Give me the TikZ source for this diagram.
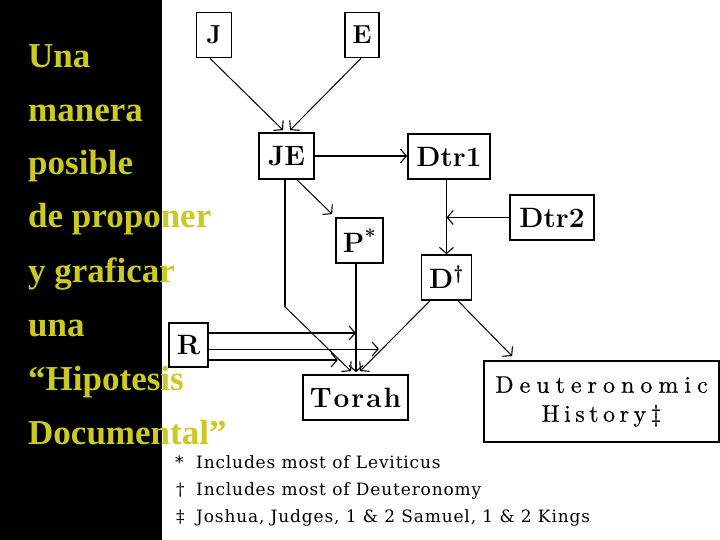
\documentclass[tikz,border=0pt]{standalone}
\usepackage{fontspec}
\usetikzlibrary{arrows.meta,calc}
\newfontfamily\titlefont{Liberation Serif}
\newfontfamily\notefont[LetterSpace=5]{DejaVu Serif}
\newfontfamily\dhfont[FakeBold=0.6]{lmroman10-regular.otf}
\definecolor{titleyellow}{RGB}{202,202,32}
\newcommand\spacedtext[2]{\def\spacedamt{#1}\spacedloop#2\relax}
\def\spacedloop#1{\ifx#1\relax\unskip\else#1\hskip\spacedamt\relax\expandafter\spacedloop\fi}
\tikzset{
  box/.style={draw=black, line width=1.7pt, fill=white, inner sep=0pt, text=black,
    font=\bfseries\fontsize{28}{30}\selectfont},
  smallbox/.style={box, font=\bfseries\fontsize{26}{28}\selectfont},
  dhbox/.style={draw=black, line width=1.7pt, fill=white, inner sep=0pt, align=center,
    font=\dhfont\fontsize{24}{29}\selectfont},
  tip/.style={-{Straight Barb[length=6pt,width=14pt,line width=1.1pt]}},
  heavy/.style={line width=1.7pt},
  slim/.style={line width=1pt},
  title/.style={anchor=base west, inner sep=0pt, text=titleyellow,
    font=\titlefont\bfseries\fontsize{35}{40}\selectfont},
  note/.style={anchor=base west, inner sep=0pt, font=\notefont\fontsize{17}{18}\selectfont}
}
\begin{document}
\begin{tikzpicture}[x=1pt,y=-1pt]
\useasboundingbox (0,0) rectangle (720,540);
\fill[white] (0,0) rectangle (720,540);
\fill[black] (0,0) rectangle (162,540);

% boxes
\node[smallbox, minimum width=35pt, minimum height=45pt] (J) at (214,35) {J};
\node[smallbox, minimum width=34pt, minimum height=45pt] (E) at (362,35) {E};
\node[box, minimum width=55pt, minimum height=46pt] (JE) at (286.5,156) {JE};
\node[box, minimum width=82pt, minimum height=45pt] (Dtr1) at (449,156.5) {Dtr1};
\node[box, minimum width=84pt, minimum height=45pt] (Dtr2) at (552,217.5) {Dtr2};
\node[box, minimum width=47pt, minimum height=45pt] (P) at (359.5,240.5) {P\textsuperscript{*}};
\node[box, minimum width=50pt, minimum height=45pt] (D) at (446.5,277.5) {D\textsuperscript{†}};
\node[box, minimum width=39pt, minimum height=44pt] (R) at (188.5,345) {R};
\node[box, minimum width=105pt, minimum height=45pt] (T) at (355.5,397.5) {\spacedtext{2pt}{Torah}};
\node[dhbox, minimum width=235pt, minimum height=81pt] (DH) at (601.5,401.5)
  {\spacedtext{6pt}{Deuteronomic}\\\spacedtext{4.5pt}{History‡}};

% connectors
\draw[slim, tip] ($(J.south)+(-4,0)$) -- ($(JE.north)+(-3.5,-2)$);
\draw[slim, tip] ($(E.south)+(-1,0)$) -- ($(JE.north)+(3.5,-2)$);
\draw[heavy, tip] (JE.east) -- (JE.east -| Dtr1.west);
\draw[slim, tip] ($(JE.south)+(10.5,0)$) -- ($(P.north west)+(-3,-3)$);
\coordinate (jeb) at ($(JE.south)+(-1.5,127)$);
\draw[heavy] ($(JE.south)+(-1.5,0)$) -- (jeb);
\draw[slim, tip] (jeb) -- ($(T.north)+(-4.5,-3)$);
\draw[heavy, tip] (Dtr1.south -| D.north) -- (D.north);
\draw[heavy, tip] (Dtr2.west) -- (Dtr2.west -| D.north);
\coordinate (pb) at ($(P.south)+(-3.5,0)$);
\draw[heavy, tip] (pb) -- ($(pb |- T.north)+(0,-2)$);
\draw[slim, tip] ($(D.south)+(-16.5,0)$) -- ($(T.north)+(4.5,-3)$);
\draw[slim, tip] ($(D.south)+(11.5,0)$) -- ($(DH.north west)+(29,-4)$);
\draw[heavy, tip] ($(R.east)+(0,-12)$) -- ++(147,0);
\draw[slim, tip] ($(R.east)+(0,4)$) -- ++(170,0);
\draw[heavy, tip] ($(R.east)+(0,15)$) -- ++(129,0);

% title text
\node[title] (t1) at (28,68) {Una};
\node[title] (t2) at (28,122) {manera};
\node[title] (t3) at (28,175) {posible};
\node[title] (t4) at (28,228) {de proponer};
\node[title] (t5) at (28,282) {y graficar};
\node[title] (t6) at (28,336) {una};
\node[title] (t7) at (28,390) {“Hipotesis};
\node[title] (t8) at (28,444) {Documental”};

% footnotes
\node[note] (s1) at (175,468) {*};
\node[note] (n1) at (196,468) {Includes most of Leviticus};
\node[note] (s2) at (176,495) {†};
\node[note] (n2) at (196,495) {Includes most of Deuteronomy};
\node[note] (s3) at (176,522) {‡};
\node[note] (n3) at (196,522) {Joshua, Judges, 1 \& 2 Samuel, 1 \& 2 Kings};
\end{tikzpicture}
\end{document}
